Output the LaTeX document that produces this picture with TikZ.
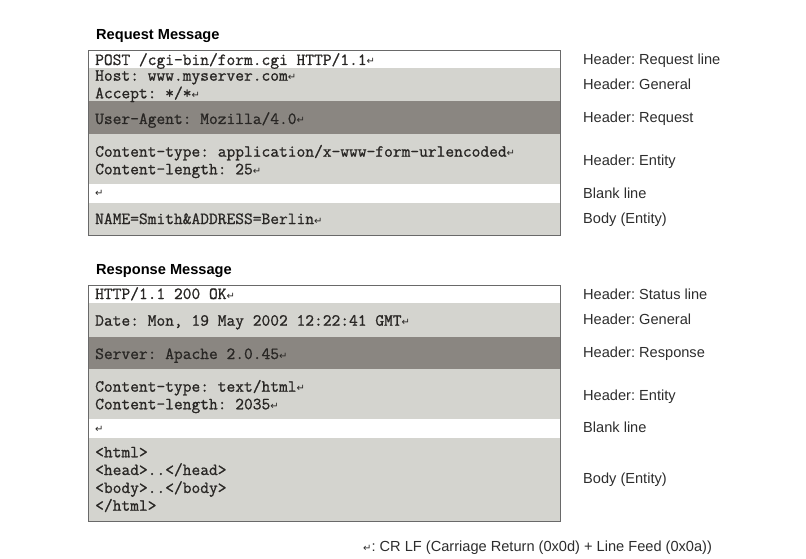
\documentclass[tikz,border=0pt]{standalone}
\usepackage{fontspec}
\setmainfont{Liberation Sans}
\newfontfamily\codefont[FakeBold=1]{Latin Modern Mono}
\newfontfamily\symbolfont{DejaVu Sans}
\usepackage{xcolor}
\usepackage{tikz}
\frenchspacing

\definecolor{lightband}{RGB}{212,212,207}
\definecolor{darkband}{RGB}{138,134,129}
\definecolor{framegray}{RGB}{105,105,105}
\definecolor{codetext}{RGB}{40,38,36}
\definecolor{labeltext}{RGB}{45,45,45}

\newcommand{\crlf}{{\symbolfont\fontsize{10}{10}\selectfont ↵}}

\tikzset{
	band/.style={rectangle, anchor=north west, inner sep=0pt, outer sep=0pt, minimum width=471.5pt},
	msgframe/.style={band, draw=framegray, line width=0.8pt},
	code/.style={anchor=base west, inner sep=0pt, text=codetext, font=\codefont\fontsize{17}{17}\selectfont},
	caption/.style={anchor=base west, inner sep=0pt, text=labeltext, font=\fontsize{14.6}{14.6}\selectfont},
	msgtitle/.style={anchor=base west, inner sep=0pt, font=\bfseries\fontsize{14.6}{14.6}\selectfont}
}

\begin{document}
\begin{tikzpicture}[x=1pt, y=-1pt]
			\useasboundingbox (0, 0) rectangle (806, 559);
			% Request message:
			\node[msgtitle] (reqTitle) at (96, 39.3) {Request Message};
			\node[band, minimum height=17.6pt] (reqLine) at (88.5, 50.7) {};
			\node[band, fill=lightband, minimum height=33.2pt] (reqGeneral) at (88.5, 68.3) {};
			\node[band, fill=darkband, minimum height=32.8pt] (reqRequest) at (88.5, 101.5) {};
			\node[band, fill=lightband, minimum height=49.7pt] (reqEntity) at (88.5, 134.3) {};
			\node[band, minimum height=18.5pt] (reqBlank) at (88.5, 184) {};
			\node[band, fill=lightband, minimum height=33pt] (reqBody) at (88.5, 202.5) {};
			\node[msgframe, minimum height=184.8pt] (reqBox) at (88.5, 50.7) {};
			\node[code] (reqPost) at (95, 65) {POST /cgi-bin/form.cgi HTTP/1.1\crlf};
			\node[code] (reqHost) at (95, 80.7) {Host: www.myserver.com\crlf};
			\node[code] (reqAccept) at (95, 98.3) {Accept: */*\crlf};
			\node[code] (reqAgent) at (95, 124) {User-Agent: Mozilla/4.0\crlf};
			\node[code] (reqType) at (95, 156.7) {Content-type: application/x-www-form-urlencoded\crlf};
			\node[code] (reqLength) at (95, 174.3) {Content-length: 25\crlf};
			\node[code] (reqEmpty) at (95, 196.5) {\crlf};
			\node[code] (reqData) at (95, 224) {NAME=Smith\&ADDRESS=Berlin\crlf};
			\node[caption] (reqLineLbl) at (583, 65) {Header: Request line};
			\node[caption] (reqGeneralLbl) at (583, 90) {Header: General};
			\node[caption] (reqRequestLbl) at (583, 122.7) {Header: Request};
			\node[caption] (reqEntityLbl) at (583, 165) {Header: Entity};
			\node[caption] (reqBlankLbl) at (583, 198.3) {Blank line};
			\node[caption] (reqBodyLbl) at (583, 223.3) {Body (Entity)};
			% Response message:
			\node[msgtitle] (resTitle) at (96, 274.2) {Response Message};
			\node[band, minimum height=17.3pt] (resLine) at (88.5, 285.7) {};
			\node[band, fill=lightband, minimum height=33.7pt] (resGeneral) at (88.5, 303) {};
			\node[band, fill=darkband, minimum height=32.3pt] (resResponse) at (88.5, 336.7) {};
			\node[band, fill=lightband, minimum height=50pt] (resEntity) at (88.5, 369) {};
			\node[band, minimum height=18.7pt] (resBlank) at (88.5, 419) {};
			\node[band, fill=lightband, minimum height=83.8pt] (resBody) at (88.5, 437.7) {};
			\node[msgframe, minimum height=235.8pt] (resBox) at (88.5, 285.7) {};
			\node[code] (resStatus) at (95, 299) {HTTP/1.1 200 OK\crlf};
			\node[code] (resDate) at (95, 325.7) {Date: Mon, 19 May 2002 12:22:41 GMT\crlf};
			\node[code] (resServer) at (95, 359) {Server: Apache 2.0.45\crlf};
			\node[code] (resType) at (95, 391.7) {Content-type: text/html\crlf};
			\node[code] (resLength) at (95, 409.3) {Content-length: 2035\crlf};
			\node[code] (resEmpty) at (95, 432) {\crlf};
			\node[code] (resHtml) at (95, 457.3) {<html>};
			\node[code] (resHead) at (95, 475) {<head>..</head>};
			\node[code] (resBodyTag) at (95, 493) {<body>..</body>};
			\node[code] (resHtmlEnd) at (95, 510.7) {</html>};
			\node[caption] (resLineLbl) at (583, 299) {Header: Status line};
			\node[caption] (resGeneralLbl) at (583, 324.3) {Header: General};
			\node[caption] (resResponseLbl) at (583, 357.3) {Header: Response};
			\node[caption] (resEntityLbl) at (583, 400) {Header: Entity};
			\node[caption] (resBlankLbl) at (583, 432.7) {Blank line};
			\node[caption] (resBodyLbl) at (583, 483.3) {Body (Entity)};
			% Footnote:
			\node[caption] (crlfNote) at (363, 551) {\crlf: CR LF (Carriage Return (0x0d) + Line Feed (0x0a))};
		\end{tikzpicture}
\end{document}
